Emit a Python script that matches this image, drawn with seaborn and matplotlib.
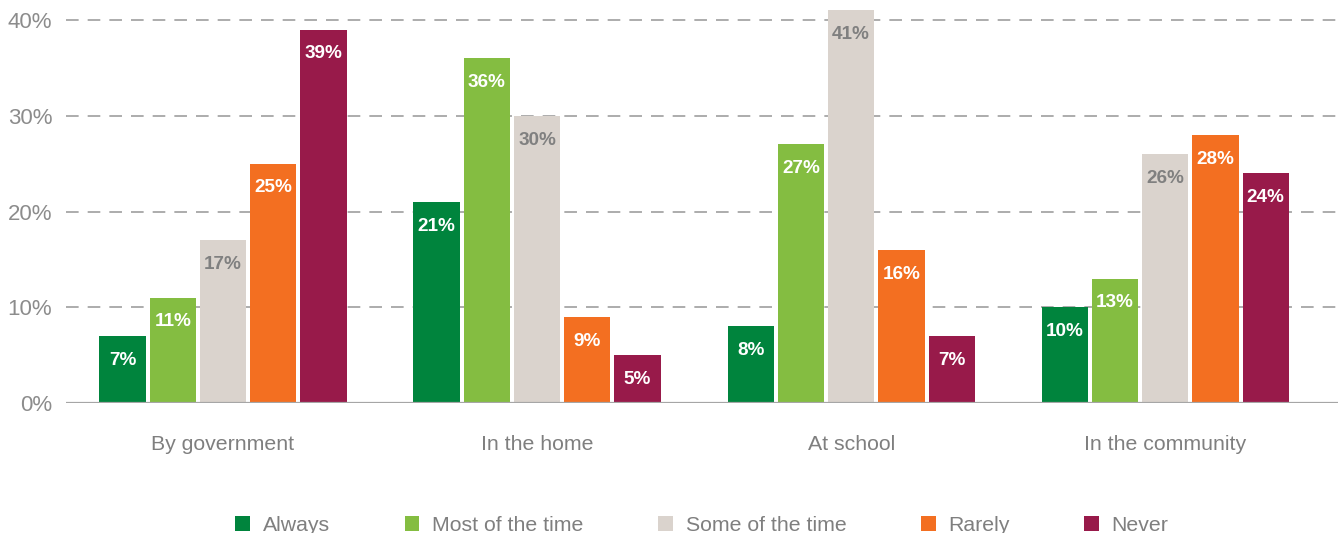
import matplotlib
matplotlib.use("Agg")
import matplotlib.pyplot as plt
import seaborn as sns
import pandas as pd
from matplotlib.patches import Patch

# Survey data
contexts = ["By government", "In the home", "At school", "In the community"]
responses = ["Always", "Most of the time", "Some of the time", "Rarely", "Never"]
always = [7, 21, 8, 10]
most_of_the_time = [11, 36, 27, 13]
some_of_the_time = [17, 30, 41, 26]
rarely = [25, 9, 16, 28]
never = [39, 5, 7, 24]

colors = ["#00843D", "#84BD41", "#DAD3CD", "#F36F21", "#981A4A"]
label_colors = ["white", "white", "#808080", "white", "white"]
yticks = [0, 10, 20, 30, 40]
ytick_labels = ["0%", "10%", "20%", "30%", "40%"]

series = [always, most_of_the_time, some_of_the_time, rarely, never]
rows = []
for resp, vals in zip(responses, series):
    for ctx, v in zip(contexts, vals):
        rows.append({"context": ctx, "response": resp, "value": v})
df = pd.DataFrame(rows)

sns.set_theme(style="white")
plt.rcParams["font.family"] = ["Liberation Sans", "DejaVu Sans"]

fig = plt.figure(figsize=(13.38, 5.33), dpi=100)
ax = fig.add_axes([66 / 1338, 130 / 533, 1 - 66 / 1338, 403 / 533])

sns.barplot(data=df, x="context", y="value", hue="response",
            order=contexts, hue_order=responses, palette=colors,
            width=0.8, gap=0.08, saturation=1, legend=False, ax=ax,
            linewidth=0, edgecolor="none", zorder=3)

ax.set_ylim(0, 42.09)
ax.set_xlim(-0.5, 3.55)

# Dashed grid lines
for y in yticks[1:]:
    ax.axhline(y, color="#A6A6A6", linestyle=(0, (7, 5)), linewidth=1.3, zorder=1)
ax.axhline(0, color="#A6A6A6", linewidth=1.6, zorder=4)

ax.set_yticks(yticks)
ax.set_yticklabels(ytick_labels)
ax.tick_params(axis="y", length=0, pad=10, labelsize=16, labelcolor="#8C8C8C")
ax.tick_params(axis="x", length=0, pad=23, labelsize=15.3, labelcolor="#7F7F7F")
ax.set_xlabel("")
ax.set_ylabel("")
for s in ax.spines.values():
    s.set_visible(False)

# Value labels inside the top of each bar
for container, lc in zip(ax.containers, label_colors):
    for bar in container:
        h = bar.get_height()
        ax.annotate(f"{h:.0f}%", (bar.get_x() + bar.get_width() / 2, h),
                    xytext=(0, -17.5), textcoords="offset points",
                    ha="center", va="center", fontsize=13.6,
                    fontweight="bold", color=lc, zorder=5)

handles = [Patch(facecolor=c, edgecolor="none", label=r) for c, r in zip(colors, responses)]
fig.legend(handles=handles, loc="center", bbox_to_anchor=(0.5247, 0.014),
           ncol=5, frameon=False, fontsize=15.3, labelcolor="#7F7F7F",
           handlelength=0.7, handleheight=0.7, handletextpad=0.6,
           columnspacing=3.5)

fig.savefig("out.png", dpi=100)
